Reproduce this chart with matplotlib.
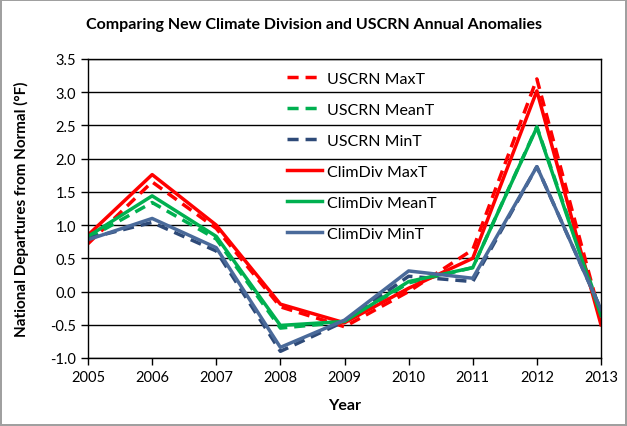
import matplotlib
matplotlib.use('Agg')
import matplotlib.pyplot as plt
import numpy as np

plt.rcParams['font.family'] = ['Lato', 'DejaVu Sans']

years = [2005, 2006, 2007, 2008, 2009, 2010, 2011, 2012, 2013]

uscrn_max = [0.72, 1.65, 0.95, -0.23, -0.53, 0.00, 0.63, 3.20, -0.40]
uscrn_mean = [0.80, 1.34, 0.79, -0.55, -0.46, 0.13, 0.36, 2.48, -0.32]
uscrn_min = [0.80, 1.04, 0.61, -0.90, -0.45, 0.23, 0.15, 1.88, -0.27]
climdiv_max = [0.85, 1.76, 1.00, -0.19, -0.47, 0.05, 0.50, 3.02, -0.50]
climdiv_mean = [0.83, 1.44, 0.83, -0.51, -0.45, 0.15, 0.36, 2.47, -0.36]
climdiv_min = [0.78, 1.10, 0.66, -0.84, -0.43, 0.31, 0.20, 1.88, -0.27]

red = '#FF0000'
green = '#00B050'
blue = '#4A6A9A'
dark_blue = '#2E4A78'

fig = plt.figure(figsize=(6.27, 4.27), dpi=100)
fig.patch.set_edgecolor('#A0A0A0')
fig.patch.set_linewidth(1.5)
ax = fig.add_axes([0.1404, 0.1593, 0.8181, 0.7002])

lw = 2.5
dash = (3.2, 2)
l1, = ax.plot(years, uscrn_max, color=red, lw=lw, dashes=dash, label='USCRN MaxT')
l2, = ax.plot(years, uscrn_mean, color=green, lw=lw, dashes=dash, label='USCRN MeanT')
l3, = ax.plot(years, uscrn_min, color=dark_blue, lw=lw, dashes=dash, label='USCRN MinT')
l4, = ax.plot(years, climdiv_max, color=red, lw=lw, label='ClimDiv MaxT')
l5, = ax.plot(years, climdiv_mean, color=green, lw=lw, label='ClimDiv MeanT')
l6, = ax.plot(years, climdiv_min, color=blue, lw=lw, label='ClimDiv MinT')

ax.set_xlim(2005, 2013)
ax.set_ylim(-1.0, 3.5)
ax.set_xticks(years)
ax.set_yticks(np.arange(-1.0, 3.51, 0.5))
ax.set_yticklabels(['%.1f' % v for v in np.arange(-1.0, 3.51, 0.5)])
ax.yaxis.grid(True, color='black', lw=1)
ax.set_axisbelow(True)
ax.tick_params(direction='out', length=5, width=1, labelsize=10.5, colors='black')
for s in ax.spines.values():
    s.set_color('black')
    s.set_linewidth(1)

ax.set_xlabel('Year', fontsize=11.5, fontweight='bold', labelpad=10)
ax.set_ylabel('National Departures from Normal (°F)', fontsize=11, fontweight='bold', labelpad=15)
fig.suptitle('Comparing New Climate Division and USCRN Annual Anomalies',
             fontsize=11.5, fontweight='bold', x=0.5, y=0.957)

leg = ax.legend(handles=[l1, l2, l3, l4, l5, l6], loc='upper left',
                bbox_to_anchor=(0.36, 1.005), frameon=False, fontsize=11.5,
                labelspacing=1.05, handlelength=2.2, handletextpad=0.3)

fig.savefig('out.png', dpi=100)
